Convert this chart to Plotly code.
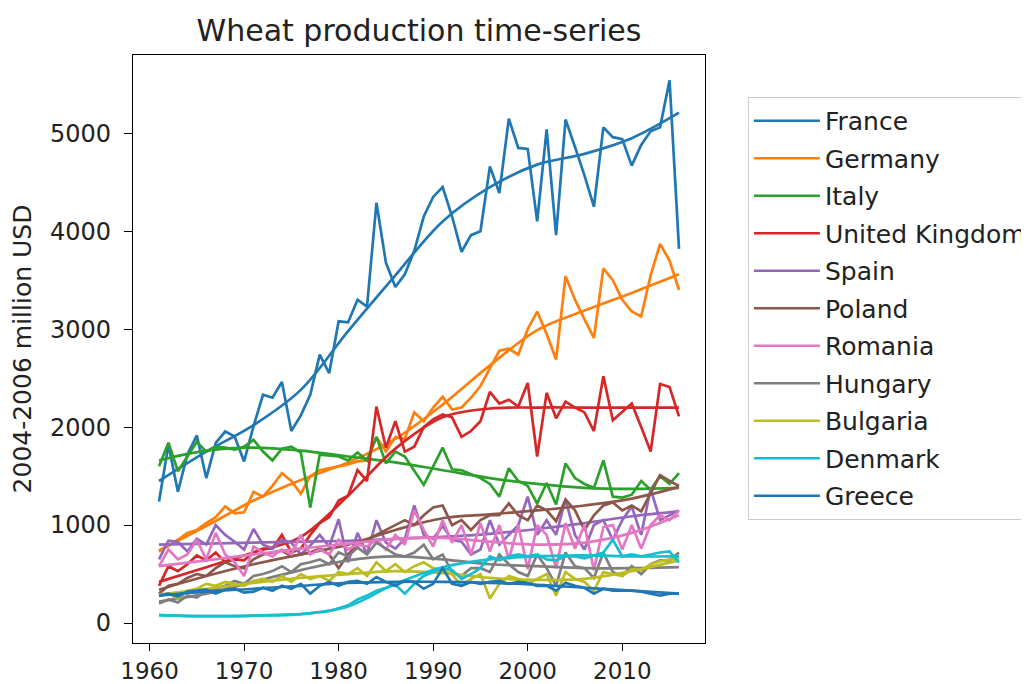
import plotly.graph_objects as go

years = list(range(1961, 2017))
trend_years = [1961, 1966, 1971, 1976, 1981, 1986, 1991, 1996, 2001, 2006, 2011, 2016]

countries = ["France", "Germany", "Italy", "United Kingdom", "Spain", "Poland",
             "Romania", "Hungary", "Bulgaria", "Denmark", "Greece"]
colors = ["#1f77b4", "#ff7f0e", "#2ca02c", "#d62728", "#9467bd", "#8c564b",
          "#e377c2", "#7f7f7f", "#bcbd22", "#17becf", "#1f77b4"]

france = [1240, 1820, 1340, 1720, 1915, 1480, 1840, 1955, 1905, 1650,
          2010, 2330, 2300, 2460, 1960, 2120, 2330, 2740, 2550, 3080,
          3070, 3300, 3230, 4290, 3680, 3430, 3560, 3800, 4150, 4350,
          4450, 4150, 3790, 3960, 4000, 4660, 4390, 5150, 4850, 4840,
          4100, 5040, 3960, 5140, 4860, 4570, 4250, 5060, 4960, 4940,
          4670, 4880, 5020, 5060, 5540, 3820]
germany = [730, 790, 850, 920, 950, 1020, 1080, 1190, 1120, 1130,
           1340, 1290, 1400, 1530, 1450, 1320, 1500, 1560, 1580, 1600,
           1620, 1650, 1660, 1900, 1750, 1900, 1880, 2150, 2060, 2200,
           2310, 2180, 2200, 2300, 2420, 2600, 2780, 2800, 2740, 3000,
           3180, 2950, 2690, 3540, 3300, 3100, 2910, 3620, 3500, 3300,
           3180, 3130, 3550, 3870, 3700, 3400]
italy = [1600, 1840, 1550, 1700, 1850, 1750, 1800, 1790, 1770, 1800,
         1870, 1750, 1660, 1780, 1800, 1740, 1180, 1720, 1710, 1700,
         1660, 1740, 1660, 1900, 1630, 1750, 1700, 1560, 1410, 1600,
         1790, 1570, 1560, 1520, 1480, 1420, 1290, 1580, 1450, 1400,
         1220, 1430, 1210, 1630, 1480, 1420, 1380, 1660, 1290, 1280,
         1310, 1450, 1360, 1500, 1420, 1530]
uk = [380, 580, 530, 600, 690, 640, 720, 620, 650, 640,
      720, 760, 760, 900, 720, 760, 900, 1020, 1080, 1250,
      1300, 1560, 1450, 2210, 1790, 2060, 1750, 1800, 2000, 2080,
      2130, 2100, 1900, 1960, 2060, 2360, 2240, 2280, 2210, 2450,
      1700, 2350, 2090, 2260, 2200, 2150, 1960, 2520, 2070, 2150,
      2240, 2000, 1750, 2440, 2410, 2110]
spain = [650, 840, 830, 730, 860, 800, 1000, 900, 830, 750,
         960, 800, 760, 850, 820, 700, 790, 900, 780, 1060,
         620, 920, 700, 1050, 820, 760, 860, 1200, 900, 860,
         990, 850, 830, 700, 750, 1050, 800, 900, 1000, 1290,
         900, 1050, 900, 1260, 900, 750, 1000, 1050, 850, 1050,
         1190, 900, 1370, 1050, 1100, 1150]
poland = [300, 380, 400, 460, 500, 480, 560, 620, 580, 560,
          650, 700, 720, 740, 680, 700, 720, 760, 700, 560,
          700, 800, 850, 900, 950, 1000, 1050, 1000, 1100, 1180,
          1200, 1000, 1050, 950, 1050, 1100, 1100, 1220, 1100, 1050,
          1200, 1150, 1040, 1260, 1150, 950, 1100, 1200, 1230, 1150,
          1200, 1140, 1320, 1510, 1450, 1400]
romania = [580, 750, 650, 700, 850, 650, 920, 700, 620, 480,
           780, 720, 680, 750, 700, 900, 700, 750, 700, 850,
           750, 800, 780, 850, 750, 900, 800, 1150, 950, 780,
           1050, 820, 1000, 700, 1020, 730, 1000, 650, 1000, 550,
           1000, 900, 560, 1020, 760, 1000, 540, 980, 1000, 750,
           1000, 760, 1000, 1100, 1050, 1150]
hungary = [200, 240, 210, 280, 260, 330, 350, 380, 430, 400,
           480, 500, 530, 580, 520, 600, 620, 650, 600, 720,
           680, 770, 700, 820, 760, 700, 680, 720, 800, 650,
           700, 520, 480, 560, 560, 520, 700, 600, 520, 480,
           700, 560, 380, 720, 580, 560, 460, 720, 520, 480,
           580, 500, 600, 640, 640, 720]
bulgaria = [280, 300, 250, 330, 350, 400, 380, 420, 400, 380,
            430, 450, 420, 480, 420, 500, 450, 480, 430, 520,
            500, 560, 480, 620, 530, 600, 520, 580, 620, 560,
            540, 500, 380, 450, 500, 250, 400, 480, 450, 400,
            450, 500, 280, 520, 450, 420, 330, 520, 500, 480,
            550, 540, 600, 630, 650, 670]
denmark = [80, 80, 75, 70, 70, 65, 70, 72, 70, 70,
           75, 78, 80, 80, 85, 90, 100, 110, 120, 150,
           180, 240, 280, 330, 360, 390, 300, 400, 480, 520,
           560, 540, 450, 500, 560, 680, 640, 680, 700, 680,
           700, 650, 640, 680, 680, 660, 690, 720, 850, 680,
           700, 680, 700, 720, 730, 620]
greece = [280, 300, 270, 320, 330, 340, 300, 340, 350, 310,
          320, 360, 330, 380, 350, 400, 300, 380, 420, 380,
          420, 430, 400, 470, 420, 380, 430, 420, 350, 400,
          560, 400, 380, 420, 400, 420, 430, 400, 420, 410,
          380, 380, 330, 410, 380, 360, 300, 350, 330, 330,
          330, 320, 300, 280, 300, 300]

france_trend = [1450, 1750, 2020, 2380, 2980, 3550, 4100, 4450, 4680, 4790, 4950, 5210]
germany_trend = [740, 990, 1250, 1460, 1640, 1880, 2230, 2630, 2990, 3190, 3370, 3560]
italy_trend = [1660, 1760, 1790, 1760, 1700, 1640, 1560, 1480, 1420, 1380, 1370, 1380]
uk_trend = [420, 570, 720, 880, 1300, 1780, 2100, 2190, 2200, 2200, 2200, 2200]
spain_trend = [800, 810, 820, 830, 840, 860, 880, 910, 960, 1020, 1090, 1140]
poland_trend = [340, 480, 600, 700, 800, 950, 1070, 1110, 1150, 1200, 1270, 1390]
romania_trend = [580, 640, 700, 760, 810, 860, 870, 830, 800, 820, 920, 1100]
hungary_trend = [220, 300, 420, 540, 640, 680, 650, 600, 580, 560, 560, 570]
bulgaria_trend = [290, 350, 410, 460, 500, 530, 510, 460, 440, 450, 530, 640]
denmark_trend = [80, 70, 75, 90, 170, 400, 570, 650, 680, 690, 680, 680]
greece_trend = [280, 320, 350, 380, 410, 420, 420, 410, 390, 360, 330, 300]

raw_series = [france, germany, italy, uk, spain, poland, romania, hungary,
              bulgaria, denmark, greece]
trend_series = [france_trend, germany_trend, italy_trend, uk_trend, spain_trend,
                poland_trend, romania_trend, hungary_trend, bulgaria_trend,
                denmark_trend, greece_trend]

FONT = "DejaVu Sans"
FS = 25
fig = go.Figure()
for i, name in enumerate(countries):
    fig.add_trace(go.Scatter(x=years, y=raw_series[i], mode="lines", name=name,
                             legendgroup=f"g{i}",
                             line=dict(color=colors[i], width=2.7)))
    fig.add_trace(go.Scatter(x=trend_years, y=trend_series[i], mode="lines",
                             name=name, legendgroup=f"g{i}", showlegend=False,
                             line=dict(color=colors[i], width=2.7, shape="spline")))

axis_common = dict(showline=True, linecolor="black", linewidth=1.2, mirror=True,
                   ticks="outside", tickcolor="black", showgrid=False,
                   zeroline=False)
fig.update_xaxes(range=[1958.25, 2018.75], tickvals=[1960, 1970, 1980, 1990, 2000, 2010],
                 ticklen=7, tickfont=dict(family=FONT, size=23, color="#222"),
                 **axis_common)
fig.update_yaxes(range=[-204, 5799], tickvals=[0, 1000, 2000, 3000, 4000, 5000],
                 ticklen=8, ticklabelstandoff=8,
                 tickfont=dict(family=FONT, size=24, color="#222"),
                 title=dict(text="2004-2006 million USD",
                            font=dict(family=FONT, size=FS, color="#222"), standoff=12),
                 **axis_common)

# The page body has an 8px margin, so the figure is 8px smaller and shifted.
W, H = 1021, 676
fig.update_layout(
    width=W, height=H,
    margin=dict(l=125, r=324, t=47, b=41, autoexpand=False),
    paper_bgcolor="white", plot_bgcolor="white",
    title=dict(text="Wheat production time-series", x=(125 + 697) / 2 / W,
               xanchor="center", y=1 - 22 / H, yanchor="middle",
               font=dict(family=FONT, size=30, color="#222")),
    legend=dict(x=1.075, xanchor="left", y=0.9286, yanchor="top",
                traceorder="grouped", tracegroupgap=2,
                font=dict(family=FONT, size=FS, color="#222"),
                bordercolor="#cccccc", borderwidth=1, bgcolor="white",
                itemwidth=66),
    showlegend=True,
)

fig.write_html("out.html")
